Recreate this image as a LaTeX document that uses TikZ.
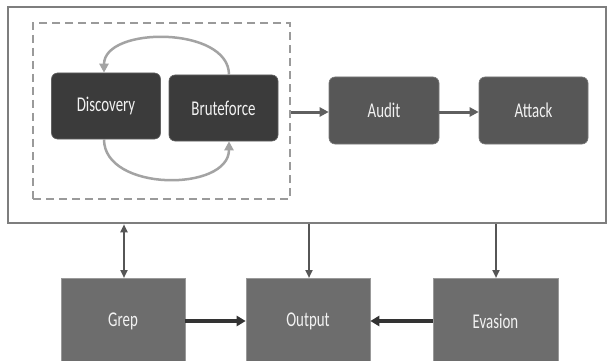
\documentclass[tikz,border=0pt]{standalone}
\usepackage{fontspec}
\setmainfont{Carlito}[FakeStretch=0.71]
\usetikzlibrary{arrows.meta}
\definecolor{darkbox}{HTML}{3B3B3B}
\definecolor{midbox}{HTML}{575757}
\definecolor{lowbox}{HTML}{6D6D6D}
\definecolor{frame}{HTML}{7E7E7E}
\definecolor{arcgray}{HTML}{A3A3A3}
\definecolor{dashgray}{HTML}{9A9A9A}
\definecolor{arrgray}{HTML}{5F5F5F}
\definecolor{lbl}{HTML}{F2F2F2}
\begin{document}
\begin{tikzpicture}[x=1pt,y=-1pt,
  txt/.style={text=lbl,font=\fontsize{21}{24}\selectfont},
  topbox/.style={txt,rounded corners=6pt,minimum width=109pt,minimum height=66pt,inner sep=0pt},
  darkstep/.style={topbox,fill=darkbox,draw=darkbox!80!white,line width=0.6pt},
  midstep/.style={topbox,fill=midbox,draw=midbox!80!white,line width=0.6pt},
  lowstep/.style={txt,fill=lowbox,draw=lowbox!70!white,line width=0.6pt,minimum width=124pt,minimum height=100pt,inner sep=0pt},
  flow/.style={draw=arrgray,line width=3pt,-{Triangle[length=9pt,width=9pt]}},
  vflow/.style={draw=arrgray!90!black,line width=2pt,-{Triangle[length=8pt,width=7pt]}},
  hflow/.style={draw=black!80,line width=3.5pt,-{Triangle[length=9pt,width=10pt]}},
  loop/.style={draw=arcgray,line width=2.5pt,-{Triangle[length=9pt,width=9pt]}}
]
\useasboundingbox (0,0) rectangle (608,361);
\clip (0,0) rectangle (608,361);
\fill[white] (0,0) rectangle (608,361);

\node[draw=frame,line width=2.5pt,minimum width=598pt,minimum height=216pt,inner sep=0pt] (main) at (307,115) {};
\node[draw=dashgray,line width=1.5pt,dash pattern=on 8pt off 5pt,minimum width=257pt,minimum height=176pt,inner sep=0pt] (group) at (161.5,111) {};

\node[darkstep] (disc) at (106,106) {Discovery};
\node[darkstep] (brute) at (223.5,108) {Bruteforce};
\node[midstep,minimum width=110pt,minimum height=67pt] (audit) at (384,110.5) {Audit};
\node[midstep,minimum height=67pt] (attack) at (533.5,110.5) {Attack};

\node[lowstep,anchor=north] (grep) at (123,278) {};
\node[lowstep,anchor=north] (output) at (308,278) {};
\node[lowstep,anchor=north,minimum width=125pt] (evasion) at (495.5,278) {};
\node[txt] (greplbl) at (123,321) {Grep};
\node[txt] (outlbl) at (308,321) {Output};
\node[txt] (evalbl) at (495.5,321) {Evasion};

\draw[loop] (brute.north -| 229,0) .. controls (229,26) and (104,26) .. (disc.north -| 104,0);
\draw[loop] (disc.south -| 104,0) .. controls (104,192) and (229,192) .. (brute.south -| 229,0);

\draw[flow] (group.east |- 0,112) -- (audit.west |- 0,112);
\draw[flow] (audit.east |- 0,112) -- (attack.west |- 0,112);

\draw[vflow,{Triangle[length=8pt,width=7pt]}-{Triangle[length=8pt,width=7pt]}] (main.south -| 124,0) -- (grep.north -| 124,0);
\draw[vflow] (main.south -| 309,0) -- (output.north -| 309,0);
\draw[vflow] (main.south -| 496,0) -- (evasion.north -| 496,0);

\draw[hflow] (grep.east |- 0,321) -- (output.west |- 0,321);
\draw[hflow] (evasion.west |- 0,321) -- (output.east |- 0,321);
\end{tikzpicture}
\end{document}
